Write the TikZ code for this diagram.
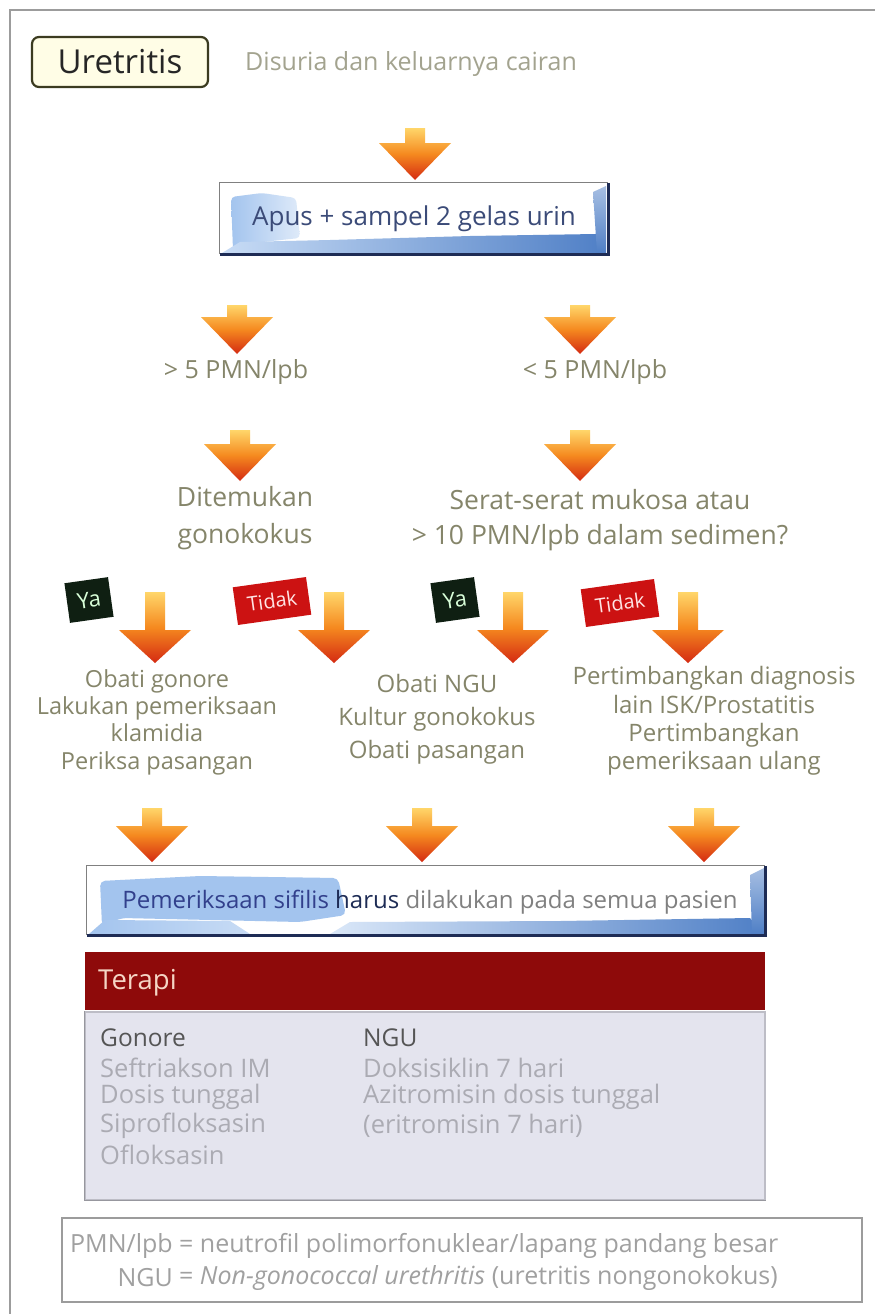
\documentclass[tikz,border=0pt]{standalone}
\usepackage{fontspec}
\setmainfont{Open Sans}
\usetikzlibrary{backgrounds}

\definecolor{frame}{HTML}{9C9C9C}
\definecolor{olive}{HTML}{85856A}
\definecolor{olivelt}{HTML}{A3A38F}
\definecolor{titlebg}{HTML}{FFFDE6}
\definecolor{titledraw}{HTML}{3B3B20}
\definecolor{arrowtop}{HTML}{FFD66A}
\definecolor{arrowmid}{HTML}{F5891F}
\definecolor{arrowbot}{HTML}{D42A12}
\definecolor{boxnavy}{HTML}{1E2C55}
\definecolor{boxtext}{HTML}{3B4B78}
\definecolor{patchlt}{HTML}{A3C4EE}
\definecolor{patchdk}{HTML}{4F7FC6}
\definecolor{yabg}{HTML}{0F1F12}
\definecolor{tidakbg}{HTML}{CC1212}
\definecolor{terapibg}{HTML}{8E0A0A}
\definecolor{terapitxt}{HTML}{F5D5C5}
\definecolor{tablebg}{HTML}{E4E4EE}
\definecolor{tabledraw}{HTML}{BDBDC6}
\definecolor{headtxt}{HTML}{555555}
\definecolor{celltxt}{HTML}{ABABB3}
\definecolor{foottxt}{HTML}{A0A0A0}

\tikzset{
  pics/darrow/.style args={#1/#2}{code={
    \shade[top color=arrowtop, bottom color=arrowbot, middle color=arrowmid]
      (-10,0) -- (10,0) -- (10,#1) -- (36,#1) -- (0,{#1+#2}) -- (-36,#1) -- (-10,#1) -- cycle;
  }},
  flowtxt/.style={text=olive, align=center, inner sep=0pt,
    font=\fontsize{24}{28}\selectfont},
  tagbox/.style={inner sep=0pt, rotate=8},
  yatag/.style={tagbox, fill=yabg, text=white!85!green, minimum width=44, minimum height=40,
    font=\fontsize{22}{22}\selectfont},
  tidaktag/.style={tagbox, fill=tidakbg, text=white!90!red, minimum width=74, minimum height=38,
    font=\fontsize{20}{20}\selectfont},
  msgbox/.style={inner sep=0pt, font=\fontsize{24}{24}\selectfont},
  celltext/.style={anchor=west, inner sep=0pt, text=celltxt, font=\fontsize{25.5}{25.5}\selectfont},
  cellhead/.style={celltext, text=headtxt, font=\fontsize{24.5}{24.5}\selectfont},
  foottext/.style={inner sep=0pt, text=foottxt, font=\fontsize{25}{25}\selectfont},
}

\begin{document}
\begin{tikzpicture}[x=1pt, y=-1pt]
\useasboundingbox (0,0) rectangle (875,1314);
\begin{scope}[on background layer]
  \fill[white] (0,0) rectangle (875,1314);
\end{scope}

% page frame
\draw[frame, line width=1.5] (10,1314) -- (10,10) -- (875,10);

% heading
\node[draw=titledraw, fill=titlebg, line width=2.2, rounded corners=7,
      minimum width=176, minimum height=50, inner sep=0pt,
      font=\fontsize{33}{33}\selectfont, text=black!85] (title) at (120,62) {Uretritis};
\node[text=olivelt, inner sep=0pt, font=\fontsize{25}{25}\selectfont, anchor=west]
      (symptom) at (245,64) {Disuria dan keluarnya cairan};

% first step box
\pic at (415,128) {darrow=15/37};
\node[msgbox, minimum width=388, minimum height=71, text=boxtext,
      font=\fontsize{26}{26}\selectfont] (apus) at (414,218.5)
      {Apus + sampel 2 gelas urin};
\begin{scope}[on background layer]
  \fill[white] (apus.north west) rectangle (apus.south east);
  \shade[left color=patchlt, right color=patchlt!35!white, rounded corners=4]
    (231,197) -- (262,193) -- (296,198) -- (300,238) -- (262,242) -- (233,250) -- cycle;
  \shade[left color=patchlt!60!white, right color=patchdk]
    (222,253) -- (240,242) -- (330,240) -- (470,236) -- (596,234) -- (606,253) -- cycle;
  \shade[top color=patchdk!50!white, bottom color=patchdk]
    (593,192) -- (606,186) -- (606,253) -- (597,253) -- cycle;
\end{scope}
\draw[gray, line width=0.8] (apus.south west) -- (apus.north west) -- (apus.north east);
\draw[boxnavy, line width=2.6] (apus.north east) -- (apus.south east) -- (apus.south west);

% PMN count
\pic at (237,305) {darrow=12/37};
\pic at (580,305) {darrow=12/37};
\node[flowtxt, font=\fontsize{25}{25}\selectfont] (gt5) at (236,372) {> 5 PMN/lpb};
\node[flowtxt, font=\fontsize{25}{25}\selectfont] (lt5) at (595,372) {< 5 PMN/lpb};

% second question level
\pic at (240,430) {darrow=14/37};
\pic at (580,430) {darrow=14/37};
\node[flowtxt, font=\fontsize{26.5}{37}\selectfont] (gono) at (245,518) {Ditemukan\\gonokokus};
\node[flowtxt, font=\fontsize{26.5}{35}\selectfont] (serat) at (600,520)
      {Serat-serat mukosa atau\\> 10 PMN/lpb dalam sedimen?};

% yes / no branches
\node[yatag] (ya1) at (89,600) {Ya};
\node[tidaktag] (tidak1) at (272,601) {Tidak};
\node[yatag] (ya2) at (455,600) {Ya};
\node[tidaktag] (tidak2) at (620,603) {Tidak};
\pic at (155,592) {darrow=38/33};
\pic at (334,592) {darrow=38/33};
\pic at (513,592) {darrow=38/33};
\pic at (688,592) {darrow=38/33};

\node[flowtxt, font=\fontsize{23.5}{27.4}\selectfont] (treatgo) at (157,722)
      {Obati gonore\\Lakukan pemeriksaan\\klamidia\\Periksa pasangan};
\node[flowtxt, font=\fontsize{24}{33}\selectfont] (treatngu) at (437,719)
      {Obati NGU\\Kultur gonokokus\\Obati pasangan};
\node[flowtxt, font=\fontsize{24}{28.3}\selectfont] (other) at (714,721)
      {Pertimbangkan diagnosis\\lain ISK/Prostatitis\\Pertimbangkan\\pemeriksaan ulang};

% syphilis screening
\pic at (152,808) {darrow=18/36};
\pic at (422,808) {darrow=18/36};
\pic at (704,808) {darrow=18/36};
\node[msgbox, minimum width=678, minimum height=69] (sifilis) at (426,900.5) {};
\node[msgbox, inner sep=0pt] (sifilistxt) at (430,902)
      {\textcolor{boxtext!85!blue}{Pemeriksaan sifilis} \textcolor{boxnavy}{harus}
       \textcolor{gray}{dilakukan pada semua pasien}};
\begin{scope}[on background layer]
  \fill[white] (sifilis.north west) rectangle (sifilis.south east);
  \fill[patchlt, rounded corners=5]
    (100,881) -- (200,876) -- (338,878) -- (346,915) -- (300,922) -- (122,918) -- (102,926) -- cycle;
  \shade[left color=patchlt, right color=patchlt!60!white]
    (89,934) -- (105,920) -- (230,921) -- (250,934) -- cycle;
  \shade[left color=patchlt!40!white, right color=patchdk]
    (330,934) -- (350,922) -- (560,921) -- (750,918) -- (764,934) -- cycle;
  \shade[top color=patchdk!50!white, bottom color=patchdk]
    (750,875) -- (764,868) -- (764,934) -- (752,934) -- cycle;
\end{scope}
\draw[gray, line width=0.8] (sifilis.south west) -- (sifilis.north west) -- (sifilis.north east);
\draw[boxnavy, line width=2.6] (sifilis.north east) -- (sifilis.south east) -- (sifilis.south west);

% therapy table
\node[fill=terapibg, minimum width=680, minimum height=58, inner sep=0pt] (terapi) at (425,981) {};
\node[anchor=west, text=terapitxt, inner sep=0pt, font=\fontsize{27.5}{27.5}\selectfont]
      (terapilbl) at (98,983) {Terapi};
\node[fill=tablebg, draw=tabledraw, line width=1.2, minimum width=680, minimum height=188,
      inner sep=0pt] (table) at (425,1106) {};
\draw[tabledraw!80!black, line width=1.5] (table.north west) -- (table.south west) -- (table.south east);
\node[cellhead] (gohead) at (100,1038) {Gonore};
\node[celltext] (go1) at (100,1068) {Seftriakson IM};
\node[celltext] (go2) at (100,1097) {Dosis tunggal};
\node[celltext] (go3) at (100,1126) {Siprofloksasin};
\node[celltext] (go4) at (100,1155) {Ofloksasin};
\node[cellhead] (nguhead) at (363,1038) {NGU};
\node[celltext] (ngu1) at (363,1068) {Doksisiklin 7 hari};
\node[celltext] (ngu2) at (363,1097) {Azitromisin dosis tunggal};
\node[celltext] (ngu3) at (363,1126) {(eritromisin 7 hari)};

% abbreviations
\node[draw=frame, line width=1.5, minimum width=800, minimum height=84, inner sep=0pt]
      (legend) at (462,1260) {};
\node[foottext, anchor=east] (abbr1) at (173,1246) {PMN/lpb};
\node[foottext, anchor=east] (abbr2) at (173,1278) {NGU};
\node[foottext, anchor=west] (def1) at (179,1246) {= neutrofil polimorfonuklear/lapang pandang besar};
\node[foottext, anchor=west] (def2) at (179,1278)
      {= \textit{Non-gonococcal urethritis} (uretritis nongonokokus)};
\end{tikzpicture}
\end{document}
